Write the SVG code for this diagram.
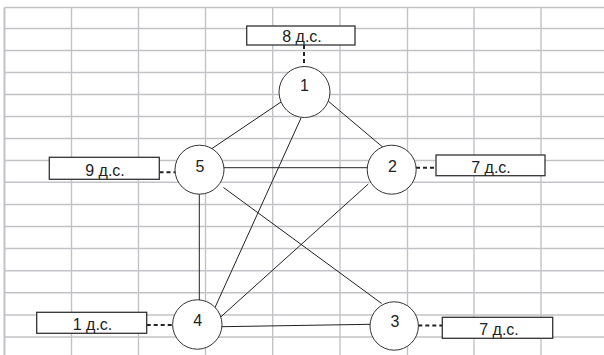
<svg xmlns="http://www.w3.org/2000/svg" width="604" height="355" viewBox="0 0 604 355">
<style>
.grid line{stroke:#c3c3c7;stroke-width:1.4}
.edge{stroke:#222;stroke-width:1;fill:none}
.dash{stroke:#222;stroke-width:2;stroke-dasharray:4 3;fill:none}
.node circle{fill:#fff;stroke:#333;stroke-width:1}
.box rect{fill:#fff;stroke:#333;stroke-width:1.3}
text{font-family:"Liberation Sans",Arial,sans-serif;font-size:16px;fill:#222;text-anchor:middle}
</style>
<rect x="0" y="0" width="604" height="355" fill="#fff"/>
<g class="grid">
<line x1="4.5" y1="7.5" x2="4.5" y2="355" style="stroke-width:2"/>
<line x1="71.5" y1="7.5" x2="71.5" y2="355"/>
<line x1="138.5" y1="7.5" x2="138.5" y2="355"/>
<line x1="205.5" y1="7.5" x2="205.5" y2="355"/>
<line x1="272.7" y1="7.5" x2="272.7" y2="355"/>
<line x1="340" y1="7.5" x2="340" y2="355"/>
<line x1="407.5" y1="7.5" x2="407.5" y2="355"/>
<line x1="474" y1="7.5" x2="474" y2="355"/>
<line x1="541" y1="7.5" x2="541" y2="355"/>
<line x1="4.5" y1="7.5" x2="604" y2="7.5"/>
<line x1="4.5" y1="28.5" x2="604" y2="28.5"/>
<line x1="4.5" y1="50.5" x2="604" y2="50.5"/>
<line x1="4.5" y1="72.5" x2="604" y2="72.5"/>
<line x1="4.5" y1="94.5" x2="604" y2="94.5"/>
<line x1="4.5" y1="116.5" x2="604" y2="116.5"/>
<line x1="4.5" y1="138.5" x2="604" y2="138.5"/>
<line x1="4.5" y1="160.5" x2="604" y2="160.5"/>
<line x1="4.5" y1="182.3" x2="604" y2="182.3"/>
<line x1="4.5" y1="204.5" x2="604" y2="204.5"/>
<line x1="4.5" y1="226.5" x2="604" y2="226.5"/>
<line x1="4.5" y1="248.5" x2="604" y2="248.5"/>
<line x1="4.5" y1="270.7" x2="604" y2="270.7"/>
<line x1="4.5" y1="292.7" x2="604" y2="292.7"/>
<line x1="4.5" y1="315" x2="604" y2="315"/>
<line x1="4.5" y1="337" x2="604" y2="337"/>
</g>
<g id="connectors">
<line class="edge" x1="281" y1="102" x2="212" y2="148.5"/>
<line class="edge" x1="327.5" y1="100.5" x2="385" y2="149"/>
<line class="edge" x1="301" y1="118" x2="215" y2="307.5"/>
<line class="edge" x1="224" y1="167.7" x2="368" y2="167.7"/>
<line class="edge" x1="199.3" y1="194" x2="199.3" y2="300"/>
<line class="edge" x1="223.5" y1="187.5" x2="381.7" y2="303.5"/>
<line class="edge" x1="368.3" y1="184" x2="221" y2="316.7"/>
<line class="edge" x1="222" y1="326.7" x2="370.7" y2="324.3"/>
<line class="dash" x1="304" y1="45" x2="304" y2="67"/>
<line class="dash" x1="159.5" y1="172.3" x2="175.5" y2="172.3"/>
<line class="dash" x1="416" y1="167.7" x2="436" y2="167.7"/>
<line class="dash" x1="146.7" y1="325" x2="173" y2="325"/>
<line class="dash" x1="418.3" y1="325.5" x2="442.3" y2="325.5"/>
</g>
<g id="node1" class="node"><circle cx="304.5" cy="92" r="25.5"/><text x="304.5" y="91">1</text></g>
<g id="node2" class="node"><circle cx="391.7" cy="169.7" r="24.5"/><text x="392.5" y="172.3">2</text></g>
<g id="node3" class="node"><circle cx="394.2" cy="326" r="24.2"/><text x="395" y="327.3">3</text></g>
<g id="node4" class="node"><circle cx="197.3" cy="324.5" r="24.7"/><text x="197.7" y="326">4</text></g>
<g id="node5" class="node"><circle cx="199.5" cy="169.7" r="24.5"/><text x="200" y="172.3">5</text></g>
<g id="label1" class="box"><rect x="246.7" y="26" width="108.3" height="19"/><text x="302" y="41.7">8 д.с.</text></g>
<g id="label2" class="box"><rect x="436" y="155" width="109" height="20.7"/><text x="491" y="173.3">7 д.с.</text></g>
<g id="label3" class="box"><rect x="442.3" y="317.3" width="110.4" height="21"/><text x="499" y="335">7 д.с.</text></g>
<g id="label4" class="box"><rect x="36.7" y="312.3" width="110" height="21"/><text x="92.5" y="330">1 д.с.</text></g>
<g id="label5" class="box"><rect x="49.3" y="157.3" width="110" height="22"/><text x="105" y="176">9 д.с.</text></g>
</svg>
